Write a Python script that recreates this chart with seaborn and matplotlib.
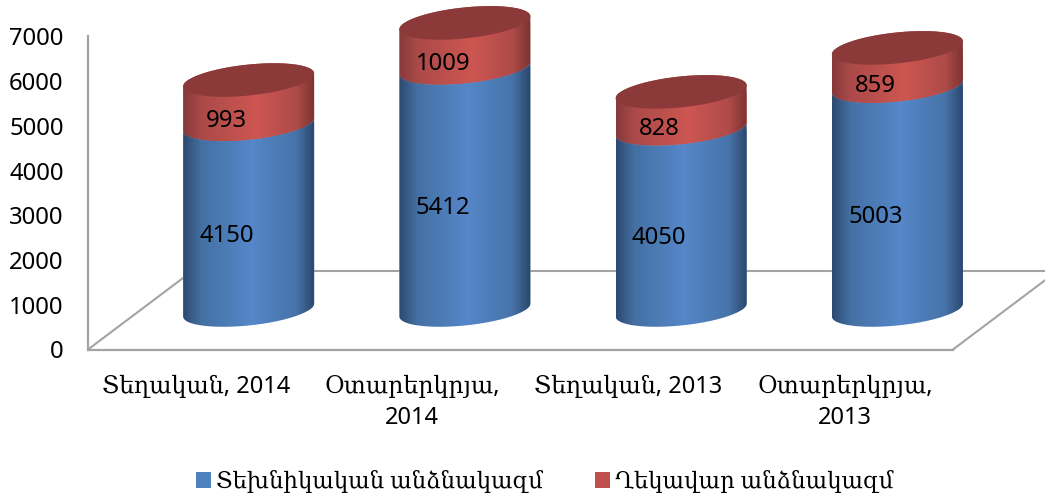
import numpy as np
import pandas as pd
import matplotlib
matplotlib.use("Agg")
import matplotlib.pyplot as plt
from matplotlib.colors import LinearSegmentedColormap
from matplotlib.patches import PathPatch, Patch
from matplotlib.path import Path
from matplotlib.transforms import Affine2D
import seaborn as sns

categories = ["Տեղական, 2014", "Օտարերկրյա,\n2014", "Տեղական, 2013", "Օտարերկրյա,\n2013"]
technical = [4150, 5412, 4050, 5003]
managerial = [993, 1009, 828, 859]
series_names = ["Տեխնիկական անձնակազմ", "Ղեկավար անձնակազմ"]
y_ticks = [0, 1000, 2000, 3000, 4000, 5000, 6000, 7000]

BLUE, RED, TOP_RED = "#4f81bd", "#c0504d", "#8c3a39"
GREY = "#a3a3a3"
FONT = ["Noto Sans", "DejaVu Serif"]
FS = 17.2

sns.set_theme(style="white")
plt.rcParams["font.family"] = FONT

W, H = 1045, 497
fig = plt.figure(figsize=(W / 100, H / 100), dpi=100)
ax = fig.add_axes([88 / W, 1 - 349.5 / H, 865 / W, 313 / H])

df = pd.DataFrame({"cat": categories, "tech": technical, "man": managerial})
df["total"] = df["tech"] + df["man"]

BAR_W = 0.606
sns.barplot(data=df, x="cat", y="total", color=RED, saturation=1, width=BAR_W, ax=ax, zorder=3)
sns.barplot(data=df, x="cat", y="tech", color=BLUE, saturation=1, width=BAR_W, ax=ax, zorder=3)
ax.set_xlim(-0.5, 3.5)
ax.set_ylim(0, 7000)

px_x = 865 / 4
px_y = 313 / 7000
DX, DY = 105 / px_x, 79 / px_y          # floor depth in data units
depth = Affine2D().translate(DX / 2, DY / 2) + ax.transData
SHEAR, EH = 6.5 / px_y, 15.5 / px_y      # ellipse shape in data units

blue_map = LinearSegmentedColormap.from_list("b", [(0, "#2d4a70"), (.14, "#4470a3"), (.52, "#5587c9"), (.86, "#4673a8"), (1, "#2a466b")])
red_map = LinearSegmentedColormap.from_list("r", [(0, "#86393a"), (.14, "#ab4a49"), (.55, "#cd5651"), (.86, "#ae4b49"), (1, "#7a3230")])
grad = np.linspace(0, 1, 256)[None, :]


def arc(xc, yv, t):
    return np.column_stack([xc + BAR_W / 2 * np.cos(t), yv + SHEAR * np.cos(t) + EH * np.sin(t)])


low = np.linspace(np.pi, 2 * np.pi, 80)
up = np.linspace(0, np.pi, 80)
full = np.linspace(0, 2 * np.pi, 160)

red_bars, blue_bars = ax.containers[0], ax.containers[1]
for rb, bb in zip(red_bars, blue_bars):
    xc = bb.get_x() + bb.get_width() / 2
    y1, y2 = bb.get_height(), rb.get_height()
    blue_path = Path(np.vstack([arc(xc, 0, low), arc(xc, y1, low)[::-1]]))
    red_path = Path(np.vstack([arc(xc, y1, low), arc(xc, y2, up)]))
    for bar, path, cmap, top in ((rb, red_path, red_map, y2 + EH + SHEAR), (bb, blue_path, blue_map, y1 + EH + SHEAR)):
        bar.set_transform(depth)
        bar.set_clip_path(path, depth)
        bar.set_clip_box(fig.bbox)
        im = ax.imshow(grad, cmap=cmap, aspect="auto", zorder=4, transform=depth, interpolation="bilinear",
                       extent=[xc - BAR_W / 2, xc + BAR_W / 2, -EH - SHEAR, top])
        im.set_clip_path(path, depth)
        im.set_clip_box(fig.bbox)
    ax.add_patch(PathPatch(Path(arc(xc, y2, full)), fc=TOP_RED, ec="none", transform=depth, zorder=5, clip_on=False))

ax.set_xlim(-0.5, 3.5)
ax.set_ylim(0, 7000)
ax.set_aspect("auto")

# value labels
for i, (t, m) in enumerate(zip(technical, managerial)):
    for value, mid in ((t, t / 2), (m, t + m / 2)):
        ax.annotate(str(value), (i, mid), xycoords=depth, xytext=(-22 * .72, -19 * .72), textcoords="offset points",
                    ha="center", va="center", fontsize=FS, color="black", zorder=6, annotation_clip=False)

# floor
line = dict(color=GREY, lw=1.5, clip_on=False, zorder=1, solid_capstyle="round")
ax.plot([-0.5, -0.5 + DX], [0, DY], **line)
ax.plot([3.5, 3.5 + DX], [0, DY], **line)
ax.plot([-0.5 + DX, 3.5 + DX], [DY, DY], **line)

sns.despine(ax=ax, top=True, right=True)
for s in ("left", "bottom"):
    ax.spines[s].set_color(GREY)
    ax.spines[s].set_linewidth(1.6)
    ax.spines[s].set_zorder(2)

ax.set_xlabel("")
ax.set_ylabel("")
ax.set_yticks(y_ticks)
ax.set_xticks(range(4))
ax.set_xticklabels(categories, fontsize=17.0, color="black", linespacing=1.4)
ax.tick_params(axis="y", length=0, pad=17.5, labelsize=FS, labelcolor="black")
ax.tick_params(axis="x", length=0, pad=18)

handles = [Patch(fc=BLUE, ec="none"), Patch(fc=RED, ec="none")]
fig.legend(handles, series_names, loc="center", bbox_to_anchor=(544.5 / W, 1 - 482 / H), ncol=2, frameon=False,
           fontsize=16.4, handlelength=0.66, handleheight=0.66, handletextpad=0.22, columnspacing=2.3, labelcolor="black")

fig.savefig("out.png", dpi=100)
